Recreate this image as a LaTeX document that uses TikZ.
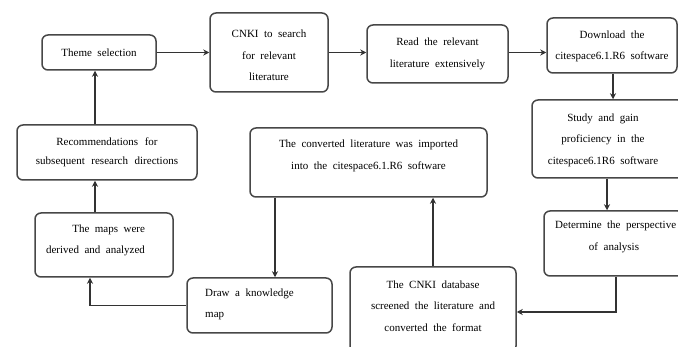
\documentclass[tikz,border=0pt]{standalone}
\usepackage{fontspec}
\setmainfont{Liberation Serif}
\usetikzlibrary{arrows.meta}
\newcommand{\boxfont}{\fontsize{11}{21.5}\selectfont\spaceskip=0.5em plus 0.2em\relax}
\newcommand{\recfont}{\fontsize{11}{19.5}\selectfont\spaceskip=0.6em plus 0.2em\relax}
\begin{document}
\begin{tikzpicture}[x=1pt, y=-1pt,
  box/.style={draw=black!72, line width=1.5pt, rounded corners=6pt, fill=white},
  txt/.style={align=center, inner sep=0pt, font=\boxfont},
  flow/.style={-{Stealth[length=6pt,width=6pt]}, draw=black!80, line width=1.6pt}]
  \useasboundingbox (0,0) rectangle (678,347);

  % Top row
  \node[box, minimum width=114pt, minimum height=35pt] (theme) at (99,52.5) {};
  \node[txt] (theme-t) at (theme.center) {Theme selection};
  \node[box, minimum width=118pt, minimum height=79pt] (search) at (269,52.5) {};
  \node[txt] (search-t) at ([yshift=-3pt]search.center) {CNKI to search\\for relevant\\literature};
  \node[box, minimum width=141pt, minimum height=58pt] (read) at (437.5,54) {};
  \node[txt] (read-t) at (read.center) {Read the relevant\\literature extensively};
  \node[box, minimum width=130pt, minimum height=55pt] (download) at (612,45.5) {};
  \node[txt] (download-t) at ([yshift=-1pt]download.center) {Download the\\citespace6.1.R6 software};

  % Right column
  \node[box, minimum width=152pt, minimum height=78pt] (study) at (608,139) {};
  \node[txt] (study-t) at ([xshift=-5pt,yshift=-1pt]study.center) {Study and gain\\proficiency in the\\citespace6.1R6 software};
  \node[box, minimum width=140pt, minimum height=65pt] (perspective) at (614,243.5) {};
  \node[txt, anchor=north west] (perspective-t) at (555,221) {Determine the perspective};
  \node[txt] (perspective-t2) at (614,248) {of analysis};

  % Bottom row
  \node[box, minimum width=166pt, minimum height=85pt] (screen) at (433,309.5) {};
  \node[txt] (screen-t) at (433,306) {The CNKI database\\screened the literature and\\converted the format};
  \node[box, minimum width=237pt, minimum height=69pt] (import) at (368.5,162.5) {};
  \node[txt] (import-t) at (368.5,156) {The converted literature was imported\\into the citespace6.1.R6 software};
  \node[box, minimum width=145pt, minimum height=55pt] (drawmap) at (259.5,305.5) {};
  \node[txt, align=left, anchor=west] (drawmap-t) at (205,304.5) {Draw a knowledge\\map};

  % Left column
  \node[box, minimum width=138pt, minimum height=64pt] (maps) at (104,245) {};
  \node[txt, align=right] (maps-t) at (95.5,240.5) {The maps were\\derived and analyzed};
  \node[box, minimum width=180pt, minimum height=55pt] (recommend) at (107,152.5) {};
  \node[txt, font=\recfont] (recommend-t) at (recommend.center) {Recommendations for\\subsequent research directions};

  % Arrows
  \draw[flow] (theme.east) -- (search.west |- theme.east);
  \draw[flow] (search.east) -- (search.east -| read.west);
  \draw[flow] (read.east |- search.east) -- (search.east -| download.west);
  \draw[flow] ([xshift=1pt]download.south) -- ([xshift=1pt]download.south |- study.north);
  \draw[flow] ([xshift=-1pt]study.south) -- ([xshift=-1pt]study.south |- perspective.north);
  \draw[flow] ([xshift=2pt]perspective.south) |- ([yshift=-2.5pt]screen.east);
  \draw[flow] (screen.north) -- (screen.north |- import.south);
  \draw[flow] ([xshift=15.5pt]drawmap.north |- import.south) -- ([xshift=15.5pt]drawmap.north);
  \draw[flow] (drawmap.west) -| ([xshift=-14pt]maps.south);
  \draw[flow] ([xshift=-9pt]maps.north) -- ([xshift=-9pt]maps.north |- recommend.south);
  \draw[flow] ([xshift=-12pt]recommend.north) -- ([xshift=-12pt]recommend.north |- theme.south);
\end{tikzpicture}
\end{document}
